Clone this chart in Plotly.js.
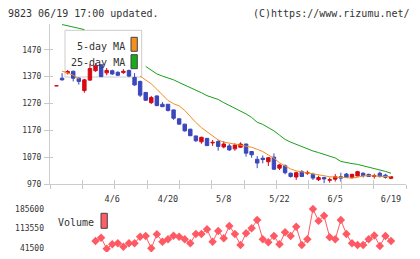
<!DOCTYPE html>
<html><head><meta charset="utf-8">
<script src="https://cdn.plot.ly/plotly-3.0.1.min.js"></script>
<style>html,body{margin:0;padding:0;background:#fff}#chart{width:420px;height:259px}</style>
</head><body><div id="chart"></div>
<script>
const dates = ['3/23','3/24','3/25','3/26','3/27','3/30','3/31','4/1','4/2','4/3',
 '4/6','4/7','4/8','4/9','4/10','4/13','4/14','4/15','4/16','4/17',
 '4/20','4/21','4/22','4/23','4/24','4/27','4/28','4/30','5/1','5/7',
 '5/8','5/11','5/12','5/13','5/14','5/15','5/18','5/19','5/20','5/21',
 '5/22','5/25','5/26','5/27','5/28','5/29','6/1','6/2','6/3','6/4',
 '6/5','6/8','6/9','6/10','6/11','6/12','6/15','6/16','6/17','6/18',
 '6/19'];
const openP  = [1336,1364,1384,1390,1364,1318,1357,1392,1414,1384,1392,1386,1385,1393,1367,1352,1311,1273,1298,1267,1267,1246,1213,1193,1174,1149,1127,1140,1123,1128,1108,1112,1101,1107,1119,1091,1062,1066,1053,1070,1029,1038,1010,996,1016,1010,1006,986,994,984,988,997,1007,994,1000,1010,1006,998,1010,1003,991];
const highP  = [1336,1383,1395,1392,1367,1362,1417,1420,1416,1402,1396,1390,1398,1396,1383,1355,1313,1298,1300,1275,1268,1247,1214,1194,1176,1150,1146,1141,1134,1134,1130,1119,1122,1125,1120,1093,1074,1076,1070,1084,1044,1043,1013,1016,1022,1020,1012,1001,997,994,1007,1012,1011,1008,1019,1014,1008,1008,1016,1008,998];
const lowP   = [1336,1355,1378,1352,1340,1310,1354,1388,1368,1375,1376,1372,1380,1368,1336,1294,1280,1268,1260,1257,1240,1209,1192,1165,1148,1127,1120,1112,1112,1094,1103,1093,1094,1105,1072,1068,1029,1047,1037,1022,1022,1006,994,985,996,1004,985,981,973,975,979,979,993,990,998,994,996,990,994,990,988];
const closeP = [1336,1358,1389,1364,1352,1358,1400,1410,1370,1393,1380,1375,1390,1372,1339,1301,1282,1292,1262,1258,1244,1215,1193,1168,1150,1131,1144,1113,1125,1110,1119,1097,1115,1119,1085,1079,1048,1061,1068,1025,1041,1012,998,1012,998,1013,992,994,989,986,997,992,995,1006,1016,1001,998,1001,998,995,997];
// moving averages (null where hidden behind the legend box)
const ma5  = [null,1390,1384,1375,1362,null,null,null,null,null,null,null,null,null,null,1372,1358,1343,1323,1302,1281,1269,1261,1244,1221,1199,1180,1165,1147,1134,1126,1122,1118,1116,1112,1107,1099,1091,1078,1066,1049,1037,1026,1019,1015,1012,1007,1005,1001,997,996,994,992,992,995,1000,1001,1000,1001,1000,997];
const ma25 = [null,1564,1560,1554,1550,1545,null,null,null,null,null,null,null,null,null,null,1408,1394,1380,1372,1366,1358,1348,1339,1330,1319,1310,1299,1293,1285,1273,1263,1251,1242,1231,1218,1200,1192,1180,1168,1152,1136,1126,1117,1111,1102,1093,1087,1081,1074,1067,1054,1049,1046,1043,1038,1033,1029,1022,1017,1010];
const volume = [null,null,null,null,null,null,null,68300,80400,40000,56200,59800,47400,59800,59800,84000,86600,41500,92800,65700,74500,87700,84000,74500,59800,93900,93900,111200,65700,104900,78200,123300,93900,53600,96500,114800,145300,74500,63500,86600,56200,100200,86600,120700,53600,74500,185600,142000,160500,81800,74500,145300,93900,59800,53600,53600,74500,88500,49900,86600,68300];
const priceTicks = [970,1070,1170,1270,1370,1470];
const volTicks = [41500,113550,185600];
const tickLabels = ['4/6','4/20','5/8','5/22','6/5','6/19'];

const W=420,H=259,ML=50,MR=14;
const px = v => (v-ML)/(W-ML-MR);
const py = v => 1 - v/H;
const FONT = 'DejaVu Sans Mono';
const xr = [-1.166, 62.69];

const traces = [
 {type:'candlestick', x:dates, open:openP, high:highP, low:lowP, close:closeP, xaxis:'x', yaxis:'y',
  increasing:{line:{color:'#d40a14',width:1}, fillcolor:'#d40a14'},
  decreasing:{line:{color:'#3b47bd',width:1}, fillcolor:'#3b47bd'},
  whiskerwidth:0, hoverinfo:'skip'},
 {type:'scatter', mode:'lines', x:dates, y:ma25, xaxis:'x', yaxis:'y', line:{color:'#1aa01a',width:1}, connectgaps:false},
 {type:'scatter', mode:'lines', x:dates, y:ma5, xaxis:'x', yaxis:'y', line:{color:'#f0901e',width:1}, connectgaps:false},
 {type:'scatter', mode:'lines+markers', x:dates, y:volume, xaxis:'x2', yaxis:'y2', connectgaps:false,
  line:{color:'#ff5a64',width:1}, marker:{symbol:'diamond',size:6.5,color:'#ff5a64'}},
 {type:'scatter', x:[], y:[], xaxis:'x3', yaxis:'y'},
 {type:'scatter', x:[], y:[], xaxis:'x4', yaxis:'y'},
 {type:'scatter', x:[], y:[], xaxis:'x', yaxis:'y3'}
];

const mainDom = [py(184), py(24)];
const volDom = [py(252), py(205)];
const volPerPx = (185600-41500)/(248.3-209);
const volRange = [41500-(252-248.3)*volPerPx, 185600+(209-205)*volPerPx];

const layout = {
 width:W, height:H, margin:{l:ML,r:MR,t:0,b:0}, paper_bgcolor:'#fff', plot_bgcolor:'rgba(0,0,0,0)',
 showlegend:false, font:{family:FONT, color:'#333'}, boxgap:0.12,
 xaxis:{type:'category', range:xr, domain:[0,1], anchor:'y', rangeslider:{visible:false},
   tickmode:'array', tickvals:tickLabels, ticktext:tickLabels, ticks:'', showgrid:false, zeroline:false,
   showline:true, linecolor:'#ccc', linewidth:1, tickfont:{family:FONT,size:8.5,color:'#333'}, ticklabelstandoff:7, automargin:false},
 xaxis3:{overlaying:'x', anchor:'y', range:[0,11], tickmode:'array', tickvals:[0,1,2,3,4,5,6,7,8,9,10,11],
   ticks:'outside', ticklen:4, tickcolor:'#c8c8c8', showticklabels:false, showgrid:false, zeroline:false, showline:false},
 xaxis4:{overlaying:'x', anchor:'y', range:[0,11], tickmode:'array', tickvals:[0,1,2,3,4,5,6,7,8,9,10,11],
   ticks:'inside', ticklen:4, tickcolor:'#c8c8c8', showticklabels:false, showgrid:false, zeroline:false, showline:false},
 yaxis:{range:[970,1566], domain:mainDom, anchor:'x', tickmode:'array', tickvals:priceTicks, ticktext:priceTicks.map(String),
   ticks:'outside', ticklen:5, tickcolor:'#c8c8c8', showline:true, linecolor:'#ccc', showgrid:false, zeroline:false,
   tickfont:{family:FONT,size:8,color:'#333'}, ticklabelstandoff:1, automargin:false},
 yaxis3:{overlaying:'y', anchor:'x', range:[970,1566], tickmode:'array', tickvals:priceTicks, ticks:'inside', ticklen:3,
   tickcolor:'#c8c8c8', showticklabels:false, showgrid:false, zeroline:false, showline:false},
 xaxis2:{type:'category', range:xr, anchor:'y2', domain:[0,1], showline:false, ticks:'', showticklabels:false, showgrid:false, zeroline:false},
 yaxis2:{range:volRange, domain:volDom, anchor:'x2', tickmode:'array', tickvals:volTicks, ticktext:volTicks.map(String),
   ticks:'', showline:false, showgrid:false, zeroline:false, tickfont:{family:FONT,size:8,color:'#333'}, ticklabelstandoff:5, automargin:false},
 shapes:[
  {type:'rect', xref:'paper', yref:'paper', x0:px(65), x1:px(141.7), y0:py(77), y1:py(30.3), line:{color:'#ccc',width:1}, fillcolor:'#fff', layer:'below'},
  {type:'rect', xref:'paper', yref:'paper', x0:px(131), x1:px(137.3), y0:py(51.3), y1:py(37.3), line:{color:'#444',width:1}, fillcolor:'#f39020'},
  {type:'rect', xref:'paper', yref:'paper', x0:px(131), x1:px(137.3), y0:py(68.7), y1:py(54.7), line:{color:'#444',width:1}, fillcolor:'#1aaa1a'},
  {type:'rect', xref:'paper', yref:'paper', x0:px(101), x1:px(107.3), y0:py(228.3), y1:py(213.3), line:{color:'#444',width:1}, fillcolor:'#ff5e66'}
 ],
 annotations:[
  {xref:'paper', yref:'paper', x:px(6), y:py(13.3), xanchor:'left', yanchor:'middle', showarrow:false, text:'9823 06/19 17:00 updated.', font:{family:FONT,size:10,color:'#333'}},
  {xref:'paper', yref:'paper', x:px(412), y:py(13.3), xanchor:'right', yanchor:'middle', showarrow:false, text:'(C)https://www.rizumu.net/', font:{family:FONT,size:10,color:'#333'}},
  {xref:'paper', yref:'paper', x:px(127), y:py(46.3), xanchor:'right', yanchor:'middle', showarrow:false, text:'5-day MA', font:{family:FONT,size:10,color:'#333'}},
  {xref:'paper', yref:'paper', x:px(127), y:py(62.3), xanchor:'right', yanchor:'middle', showarrow:false, text:'25-day MA', font:{family:FONT,size:10,color:'#333'}},
  {xref:'paper', yref:'paper', x:px(56), y:py(222), xanchor:'left', yanchor:'middle', showarrow:false, text:'Volume', font:{family:FONT,size:10,color:'#333'}}
 ]
};
Plotly.newPlot('chart', traces, layout, {displayModeBar:false, staticPlot:true});
</script></body></html>
